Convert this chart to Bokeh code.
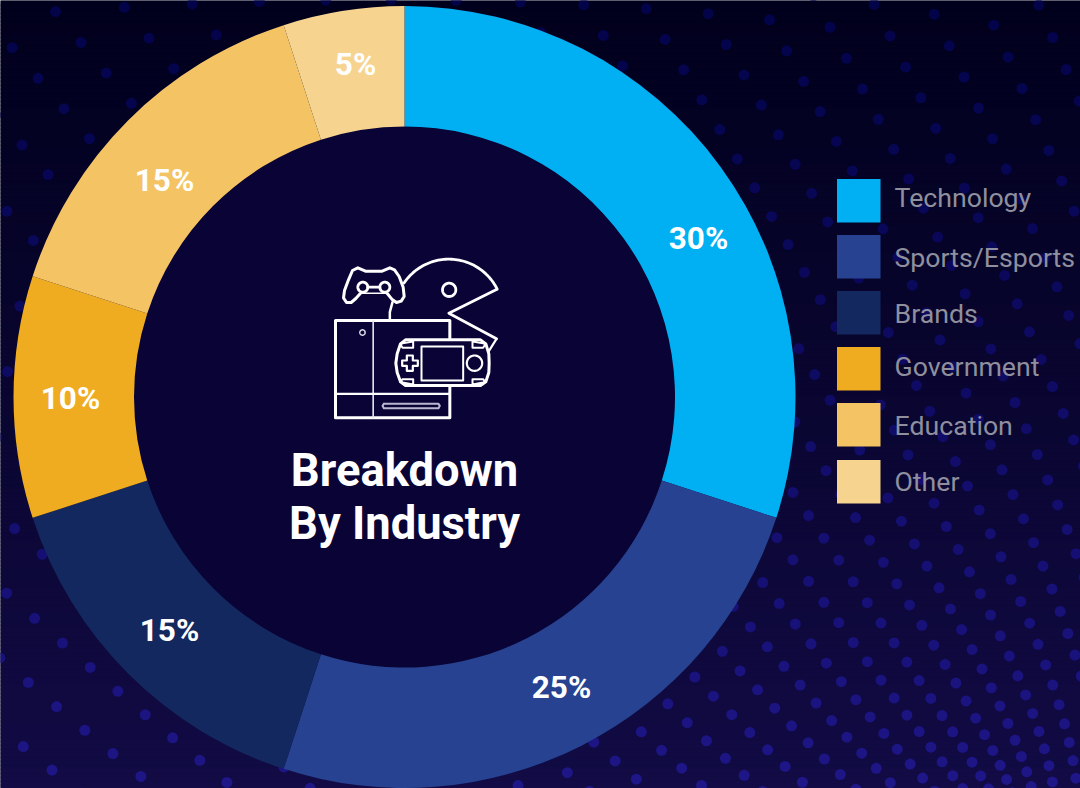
import numpy as np
from bokeh.plotting import figure
from bokeh.models import Range1d
from bokeh.core.properties import value
from bokeh.embed import file_html
from bokeh.resources import INLINE

W, H = 1080, 788

categories = ["Technology", "Sports/Esports", "Brands", "Government", "Education", "Other"]
shares = [30, 25, 15, 10, 15, 5]
colors = ["#00b0f3", "#264291", "#142860", "#efac20", "#f4c363", "#f6d38f"]
label_x = [698, 561, 169, 70, 164, 355]
label_y = [238, 687, 630, 398, 180, 64]
title_lines = ["Breakdown", "By Industry"]
legend_tops = [179, 235, 291, 347, 403, 460]
legend_mids = [197, 257, 313, 366, 425, 481]

CX, CY, R_OUT, R_IN = 404, 396.5, 391, 270.5
FONT = value("Roboto")
BG_TOP, BG_BOT = np.array([1, 0, 28]), np.array([18, 11, 69])
DOT_TOP, DOT_BOT = np.array([3, 3, 74]), np.array([31, 22, 136])
INNER = "#0a0436"


def fy(y):
    return H - np.asarray(y, dtype=float)


def mix(a, b, t):
    c = a + (b - a) * t
    return "#%02x%02x%02x" % tuple(int(round(v)) for v in c)


p = figure(width=W, height=H, x_range=Range1d(0, W), y_range=Range1d(0, H),
           output_backend="svg", toolbar_location=None, min_border=0,
           margin=(0, 0, 0, 0), border_fill_color="#01001c",
           background_fill_color="#01001c", outline_line_color=None)
p.axis.visible = False
p.grid.visible = False

# background gradient
edges = np.arange(0, H + 4, 4)
p.quad(left=0, right=W, top=fy(edges[:-1]), bottom=fy(edges[1:] + 2),
       color=[mix(BG_TOP, BG_BOT, e / H) for e in edges[:-1]], line_color=None)

# halftone decoration: a lattice bent around a focal point low on the right
FX, FY, ALPHA, SCALE, ROT = 1005, 830, 1.45, 5.0, np.deg2rad(-125)
m, n = np.meshgrid(np.arange(-120, 121), np.arange(-120, 121))
w = (m + 0.5) + 1j * 1.4 * (n + 0.5)
z = SCALE * np.abs(w) ** ALPHA * np.exp(1j * (np.angle(w) * ALPHA + ROT))
dx, dy = FX + z.real, FY + z.imag
# keep only a single sheet of the map
keep = (np.abs(np.angle(w)) < np.pi / ALPHA) & (dx > -8) & (dx < W + 8) & (dy > -8) & (dy < H + 8)
dx, dy = dx[keep], dy[keep]
p.scatter(dx, fy(dy), size=11, line_color=None,
          fill_color=[mix(DOT_TOP, DOT_BOT, (max(y, 0.0) / H) ** 1.2) for y in dy])

# donut
vals = np.array(shares, dtype=float)
cum = np.concatenate([[0], np.cumsum(vals)]) / vals.sum() * 2 * np.pi
start = np.pi / 2 - cum[:-1]
end = np.pi / 2 - cum[1:]
p.circle(CX, fy(CY), radius=R_IN + 1, fill_color=INNER, line_color=None)
p.annular_wedge(CX, fy(CY), inner_radius=R_IN, outer_radius=R_OUT, start_angle=end, end_angle=start,
                direction="anticlock", fill_color=colors, line_color=None)

p.text(label_x, fy(label_y), text=[f"{v}%" for v in shares],
       text_font=FONT, text_font_style="bold", text_font_size="31.5px", text_color="#ffffff",
       text_align="center", text_baseline="middle")

# title
p.text([404, 404], fy([470, 523]), text=title_lines, text_font=FONT, text_font_style="bold",
       text_font_size="45.3px", text_color="#ffffff", text_align="center", text_baseline="middle")

# legend
tops = np.array(legend_tops, dtype=float)
p.quad(left=836.5, right=880, top=fy(tops - 0.5), bottom=fy(tops + 43), fill_color=colors, line_color=None)
p.text(894, fy(legend_mids), text=categories, text_font=FONT, text_font_size="26.7px",
       text_color="#8f8f9e", text_align="left", text_baseline="middle")


# icon in 3x crop coordinates
def ix(v):
    return 320 + np.asarray(v, dtype=float) / 3


def iy(v):
    return fy(240 + np.asarray(v, dtype=float) / 3)


def stroke(xs, ys, width=3, color="#ffffff", alpha=1.0):
    p.line(ix(xs), iy(ys), line_color=color, line_width=width, line_alpha=alpha,
           line_join="round", line_cap="round")


def ring(cx, cy, r, width=2.5, a0=0.0, a1=360.0, color="#ffffff"):
    t = np.deg2rad(np.linspace(a0, a1, 60))
    stroke(cx + r * np.cos(t), cy - r * np.sin(t), width, color)


# pac-man
ring(385, 218, 162, 2.8, 26.4, 146)
stroke([528, 385, 528], [147, 218, 295], 2.8)
stroke([528, 505], [295, 332], 2.2)
stroke([216, 208, 208], [185, 215, 238], 2.5)
ring(386, 148, 20, 2.8)

# console
stroke([45, 388, 388, 45, 45], [240, 240, 532, 532, 240], 3)
stroke([158, 158], [240, 532], 1.6, "#e8e8f0")
stroke([45, 388], [460, 460], 2.2)
ring(126, 276, 8, 1.5, color="#d8d8e6")
stroke([190, 354, 358, 354, 190, 186, 190], [490, 490, 496, 503, 503, 496, 490], 2, "#b8b8d0")

# handheld
hx = [255, 480, 496, 505, 506, 505, 496, 480, 255, 240, 230, 226, 230, 240, 255]
hy = [298, 298, 310, 340, 368, 396, 424, 435, 435, 424, 396, 368, 340, 310, 298]
p.patch(ix(hx), iy(hy), fill_color=INNER, line_color="#ffffff", line_width=3, line_join="round")
stroke([303, 428, 428, 303, 303], [318, 318, 420, 420, 318], 2)
stroke([246, 278, 278, 246, 240, 246], [308, 303, 322, 322, 312, 308], 2)
stroke([488, 456, 456, 488, 494, 488], [308, 303, 322, 322, 312, 308], 2)
stroke([246, 278, 278, 246, 240, 246], [426, 432, 416, 416, 424, 426], 2)
stroke([488, 456, 456, 488, 494, 488], [426, 432, 416, 416, 424, 426], 2)
ring(462, 368, 23, 2.2)
stroke([259, 277, 277, 292, 292, 277, 277, 259, 259, 245, 245, 259, 259],
       [345, 345, 360, 360, 376, 376, 391, 391, 376, 376, 360, 360, 345], 2.2)

# gamepad
gx = [135, 112, 96, 84, 72, 69, 78, 92, 106, 122, 198, 214, 228, 242, 251, 248, 236, 222, 208, 185, 135]
gy = [92, 82, 90, 118, 150, 172, 186, 186, 174, 156, 156, 176, 186, 182, 168, 140, 108, 88, 82, 92, 92]
stroke(gx, gy, 3)
p.patch(ix([112, 208, 208, 112]), iy([122, 122, 156, 156]), fill_color=INNER, line_color=None)
ring(127, 140, 15, 2.8)
ring(193, 140, 15, 2.8)
stroke([142, 178], [140, 140], 2.8)

open("out.html", "w").write(file_html(p, INLINE))
